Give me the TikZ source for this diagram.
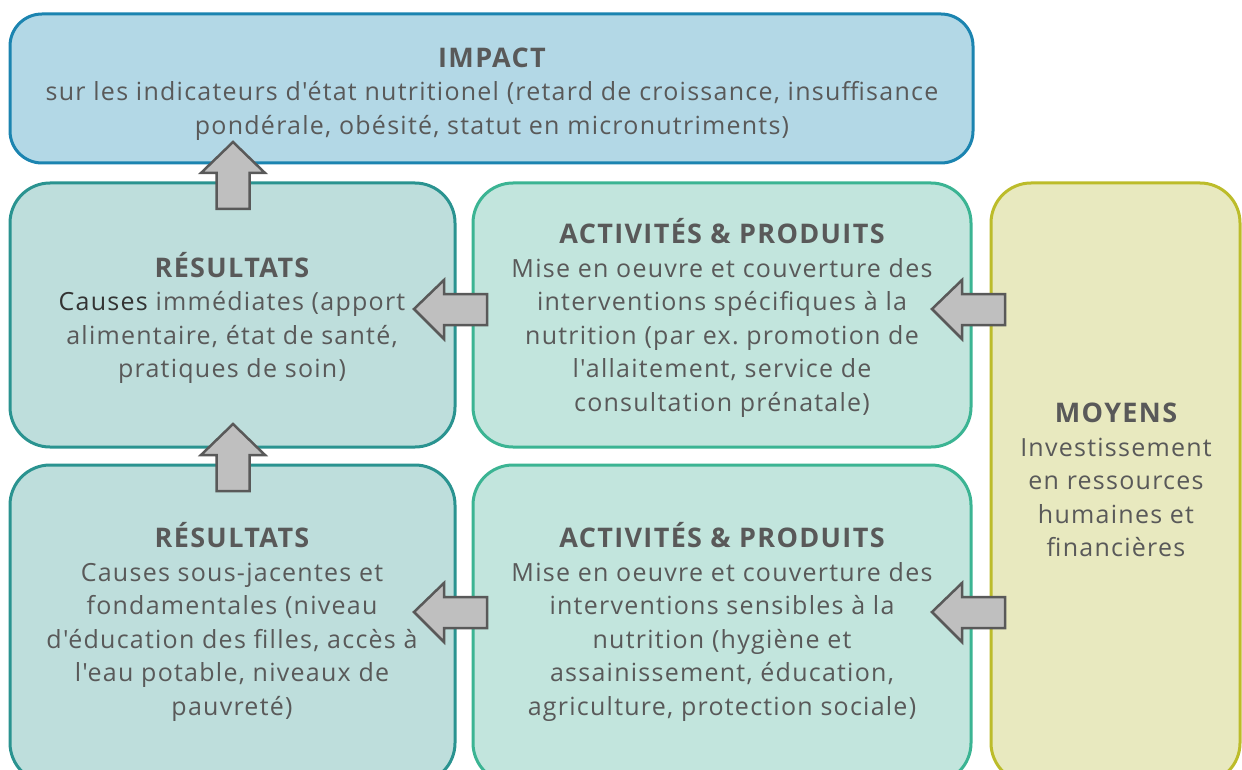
\documentclass[tikz,border=0pt]{standalone}
\usepackage{fontspec}
\setmainfont{Open Sans}[Ligatures=TeXOff, LetterSpace=5]
\frenchspacing
\definecolor{txt}{HTML}{595959}
\definecolor{impF}{HTML}{B3D8E6}
\definecolor{impD}{HTML}{1B84B0}
\definecolor{resF}{HTML}{BEDEDC}
\definecolor{resD}{HTML}{2A9390}
\definecolor{actF}{HTML}{C2E5DD}
\definecolor{actD}{HTML}{3BB493}
\definecolor{moyF}{HTML}{E8E9BF}
\definecolor{moyD}{HTML}{BCBC2A}
\definecolor{arrF}{HTML}{BFBFBF}
\definecolor{arrD}{HTML}{595959}
\newcommand{\ttl}[1]{{\fontsize{27}{33.5}\selectfont\bfseries #1}}
\tikzset{
  boxstyle/.style={line width=3pt, rounded corners=40pt},
  label/.style={text=txt, align=center, inner sep=0pt, font=\fontsize{25}{33.5}\selectfont},
  blockarrow/.style={fill=arrF, draw=arrD, line width=2.5pt, line join=miter},
}
\begin{document}
\begin{tikzpicture}[x=1pt,y=-1pt]
\useasboundingbox (0,0) rectangle (1242,770);
\clip (0,0) rectangle (1242,770);
\fill[white] (0,0) rectangle (1242,770);
% boxes
\draw[boxstyle, rounded corners=32pt, fill=impF, draw=impD] (10,14) rectangle (973,163);
\draw[boxstyle, fill=resF, draw=resD] (10,183) rectangle (455,447);
\draw[boxstyle, fill=actF, draw=actD] (473,183) rectangle (971,447);
\draw[boxstyle, fill=moyF, draw=moyD] (991,183) rectangle (1240,783);
\draw[boxstyle, fill=resF, draw=resD] (10,465) rectangle (455,783);
\draw[boxstyle, fill=actF, draw=actD] (473,465) rectangle (971,783);
% texts
\node[label] (impact) at (492,94) {\ttl{IMPACT}\\sur les indicateurs d'état nutritionel (retard de croissance, insuffisance\\pondérale, obésité, statut en micronutriments)};
\node[label] (res1) at (232,318) {\ttl{RÉSULTATS}\\{\color{black!80}Causes} immédiates (apport\\alimentaire, état de santé,\\pratiques de soin)};
\node[label] (act1) at (722,318) {\ttl{ACTIVITÉS \& PRODUITS}\\Mise en oeuvre et couverture des\\interventions spécifiques à la\\nutrition (par ex. promotion de\\l'allaitement, service de\\consultation prénatale)};
\node[label] (moy) at (1116,480) {\ttl{MOYENS}\\Investissement\\en ressources\\humaines et\\financières};
\node[label] (res2) at (232,622) {\ttl{RÉSULTATS}\\Causes sous-jacentes et\\fondamentales (niveau\\d'éducation des filles, accès à\\l'eau potable, niveaux de\\pauvreté)};
\node[label] (act2) at (722,622) {\ttl{ACTIVITÉS \& PRODUITS}\\Mise en oeuvre et couverture des\\interventions sensibles à la\\nutrition (hygiène et\\assainissement, éducation,\\agriculture, protection sociale)};
% block arrows: up arrows (tip coordinate)
\coordinate (u1) at (233,142);
\coordinate (u2) at (233,424);
\foreach \c in {u1,u2}{
  \draw[blockarrow] (\c) -- ++(32,31) -- ++(-15.5,0) -- ++(0,36) -- ++(-33,0) -- ++(0,-36) -- ++(-15.5,0) -- cycle;
}
% left arrows (tip coordinate)
\coordinate (l1) at (414,309);
\coordinate (l2) at (414,612);
\coordinate (l3) at (932,309);
\coordinate (l4) at (932,612);
\foreach \c in {l1,l2,l3,l4}{
  \draw[blockarrow] (\c) -- ++(30,-29) -- ++(0,14) -- ++(43,0) -- ++(0,31) -- ++(-43,0) -- ++(0,14) -- cycle;
}
\end{tikzpicture}
\end{document}
